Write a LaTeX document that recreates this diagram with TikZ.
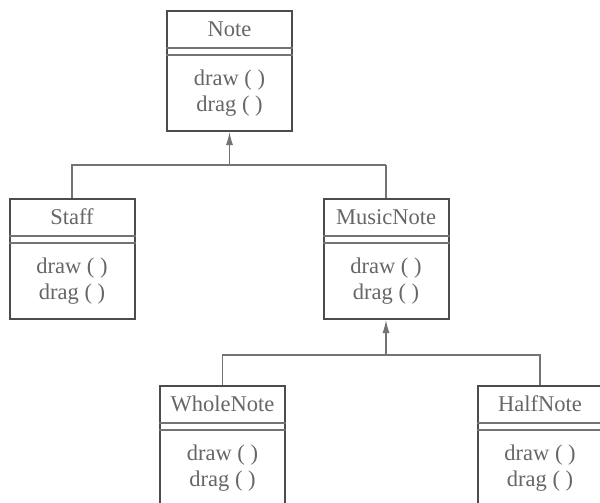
\documentclass[tikz,border=0pt]{standalone}
\usepackage{fontspec}
\setmainfont{Liberation Serif}
\usepackage{tikz}
\usetikzlibrary{arrows.meta}
\tikzset{>={Latex[width=3.5pt,length=6.5pt]}}

\definecolor{boxgray}{gray}{0.3}
\definecolor{textgray}{gray}{0.4}
\definecolor{linegray}{gray}{0.45}

\tikzset{
  classbox/.style={draw=boxgray, line width=1pt, inner sep=0pt,
    minimum width=62.5pt, minimum height=60pt},
  divider/.style={draw=linegray, line width=0.6pt},
  classtitle/.style={text=textgray, inner sep=0pt,
    font=\fontsize{11.25}{13}\selectfont},
  classops/.style={text=textgray, inner sep=0pt, align=center,
    font=\fontsize{11.25}{13}\selectfont},
  link/.style={draw=linegray, line width=0.6pt},
}

% one class box: name, x, top y, title
\newcommand{\umlclass}[4]{%
  \node[classbox, anchor=north] (#1) at (#2,#3) {};
  \draw[divider] ([yshift=-19pt]#1.north west) -- ([yshift=-19pt]#1.north east);
  \draw[divider] ([yshift=-22.5pt]#1.north west) -- ([yshift=-22.5pt]#1.north east);
  \node[classtitle] (#1-title) at ([yshift=-9.5pt]#1.north) {#4};
  \node[classops] (#1-ops) at ([yshift=-41.5pt]#1.north) {draw ( )\\drag ( )};
}

\begin{document}
\begin{tikzpicture}[x=0.5pt, y=-0.5pt]
      \useasboundingbox (0,0) rectangle (600,503);
      \clip (0,0) rectangle (600,503);

      \umlclass{note}{229.5}{10}{Note}
      \umlclass{staff}{72}{198}{Staff}
      \umlclass{musicnote}{386}{198}{MusicNote}
      \umlclass{wholenote}{222.5}{385}{WholeNote}
      \umlclass{halfnote}{540}{385}{HalfNote}

      % Note <- Staff, MusicNote
      \coordinate (j1) at ([yshift=-16.5pt]note.south);
      \draw[link] (staff.north) |- (j1);
      \draw[link] (musicnote.north |- j1) -- (j1);
      \draw[link] (musicnote.north) -- (musicnote.north |- j1);
      \draw[link, ->, fill=boxgray] (j1) -- (note.south);

      % MusicNote <- WholeNote, HalfNote
      \coordinate (j2) at ([yshift=-17.5pt]musicnote.south);
      \draw[link] (wholenote.north) |- (j2);
      \draw[link] (halfnote.north) |- (j2);
      \draw[link, ->, fill=boxgray] (j2) -- (musicnote.south);
    \end{tikzpicture}
\end{document}
